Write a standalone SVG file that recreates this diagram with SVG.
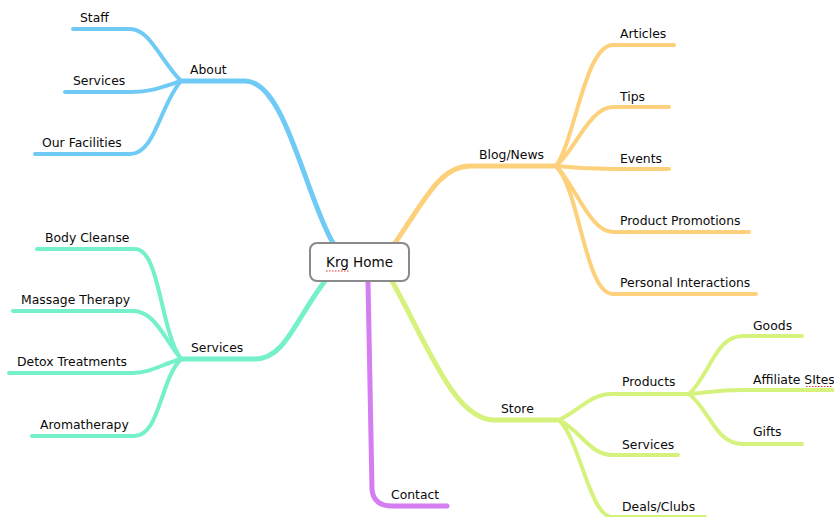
<svg xmlns="http://www.w3.org/2000/svg" width="834" height="517" viewBox="0 0 834 517">
<style>
.l{fill:none;stroke-linecap:round;stroke-linejoin:round}
.m{stroke-width:5}
.s{stroke-width:4}
.blue{stroke:#6fcbf5}
.orange{stroke:#fdd17c}
.teal{stroke:#74f0cb}
.green{stroke:#d5f27c}
.purple{stroke:#d47ef1}
text{font-family:"DejaVu Sans","Liberation Sans",sans-serif;font-size:12.4px;fill:#0a0a0a}
</style>
<rect width="834" height="517" fill="#fff"/>
<g id="connectors">
  <path class="l m blue" d="M333,243 C305,195 285,81 245,81 H182"/>
  <path class="l s blue" d="M181,81 C160,60 150,29 130,29 H73"/>
  <path class="l s blue" d="M181,81 C160,88 150,92 132,92 H65"/>
  <path class="l s blue" d="M181,81 C160,105 155,154 130,154 H35"/>
  <path class="l m orange" d="M395,243 C425,200 440,166 470,166 H555"/>
  <path class="l s orange" d="M556,166 C575,140 585,45 613,45 H674"/>
  <path class="l s orange" d="M556,166 C575,150 590,107 613,107 H669"/>
  <path class="l s orange" d="M556,166 C575,168 590,169 613,169 H669"/>
  <path class="l s orange" d="M556,166 C575,185 590,232 613,232 H749"/>
  <path class="l s orange" d="M556,166 C580,190 585,294 613,294 H756"/>
  <path class="l m teal" d="M325,281 C295,320 285,359 255,359 H182"/>
  <path class="l s teal" d="M181,359 C160,330 160,249 135,249 H37"/>
  <path class="l s teal" d="M181,359 C165,340 155,311 133,311 H13"/>
  <path class="l s teal" d="M181,359 C160,365 150,373 133,373 H9"/>
  <path class="l s teal" d="M181,359 C160,380 160,436 134,436 H32"/>
  <path class="l m purple" d="M368,281 L372,490 Q374,506 392,506 H447"/>
  <path class="l m green" d="M392,281 C430,350 455,420 495,420 H558"/>
  <path class="l s green" d="M559,420 C580,410 590,394 612,394 H688"/>
  <path class="l s green" d="M559,420 C580,430 590,455 612,455 H678"/>
  <path class="l s green" d="M559,420 C580,440 590,517 612,517 H705"/>
  <path class="l s green" d="M689,394 C710,375 715,336 743,336 H802"/>
  <path class="l s green" d="M689,394 C710,392 720,390 743,390 H834"/>
  <path class="l s green" d="M689,394 C710,410 715,444 743,444 H802"/>
</g>
<g id="home">
  <rect x="310" y="243" width="99" height="38" rx="7" fill="#fff" stroke="#8a8a8a" stroke-width="2"/>
  <text x="359.5" y="267" text-anchor="middle" style="font-size:13.5px">Krg Home</text>
  <line x1="326" y1="271" x2="349" y2="271" stroke="#e03030" stroke-width="1" stroke-dasharray="1.5,1.5"/>
</g>
<g id="about"><text x="190" y="74">About</text></g>
<g id="staff"><text x="80" y="22">Staff</text></g>
<g id="services-about"><text x="73" y="85">Services</text></g>
<g id="facilities"><text x="42" y="147">Our Facilities</text></g>
<g id="blog"><text x="479" y="159">Blog/News</text></g>
<g id="articles"><text x="620" y="38">Articles</text></g>
<g id="tips"><text x="620" y="101">Tips</text></g>
<g id="events"><text x="620" y="163">Events</text></g>
<g id="promotions"><text x="620" y="225">Product Promotions</text></g>
<g id="interactions"><text x="620" y="287">Personal Interactions</text></g>
<g id="services"><text x="191" y="352">Services</text></g>
<g id="cleanse"><text x="45" y="242">Body Cleanse</text></g>
<g id="massage"><text x="21" y="304">Massage Therapy</text></g>
<g id="detox"><text x="17" y="366">Detox Treatments</text></g>
<g id="aroma"><text x="40" y="429">Aromatherapy</text></g>
<g id="contact"><text x="391" y="499">Contact</text></g>
<g id="store"><text x="501" y="413">Store</text></g>
<g id="products"><text x="622" y="386">Products</text></g>
<g id="services-store"><text x="622" y="449">Services</text></g>
<g id="deals"><text x="622" y="511">Deals/Clubs</text></g>
<g id="goods"><text x="753" y="330">Goods</text></g>
<g id="affiliate"><text x="753" y="384">Affiliate SItes</text>
  <line x1="806" y1="386.5" x2="833" y2="386.5" stroke="#e03030" stroke-width="1" stroke-dasharray="1.5,1.5"/></g>
<g id="gifts"><text x="753" y="436">Gifts</text></g>
</svg>
